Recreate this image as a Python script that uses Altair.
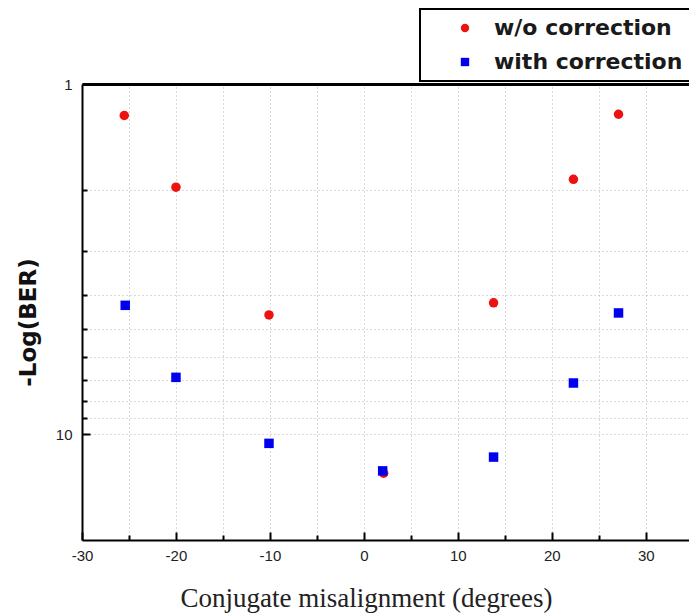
import altair as alt
import pandas as pd

# ---- data ----
series_names = ["w/o correction", "with correction"]
angle_wo = [-25.5, -20.0, -10.1, 2.1, 13.8, 22.3, 27.1]
ber_wo = [1.23, 1.97, 4.56, 12.9, 4.21, 1.87, 1.22]
angle_w = [-25.4, -20.0, -10.1, 2.0, 13.8, 22.3, 27.1]
ber_w = [4.28, 6.87, 10.6, 12.7, 11.6, 7.13, 4.50]

x_ticks = [-30, -25, -20, -15, -10, -5, 0, 5, 10, 15, 20, 25, 30]
y_ticks = [1, 2, 3, 4, 5, 6, 7, 8, 9, 10]
x_domain = [-30, 34.6]
y_domain = [1, 20]

df = pd.DataFrame({
    "angle": angle_wo + angle_w,
    "ber": ber_wo + ber_w,
    "series": [series_names[0]] * len(angle_wo) + [series_names[1]] * len(angle_w),
})

x_scale = alt.Scale(domain=x_domain, nice=False, zero=False)
y_scale = alt.Scale(type="log", domain=y_domain, reverse=True, nice=False)

legend = alt.Legend(
    title=None, orient="none", legendX=338, legendY=-75, direction="vertical",
    labelFont="DejaVu Sans", labelFontSize=22, labelFontWeight="bold", labelColor="#1a1a1a",
    labelLimit=500,
    symbolSize=70, symbolOffset=26, labelOffset=18, padding=8, rowPadding=12,
    strokeColor="black", fillColor="white", symbolStrokeWidth=0, symbolOpacity=1,
    cornerRadius=0,
)

points = alt.Chart(df).mark_point(filled=True, size=90, opacity=1).encode(
    x=alt.X(
        "angle:Q", scale=x_scale,
        axis=alt.Axis(
            values=x_ticks, title="Conjugate misalignment (degrees)",
            labelExpr="datum.value % 10 == 0 ? toString(datum.value) : ''",
            tickSize={"expr": "datum.value % 10 == 0 ? -8 : -5"},
            labelPadding=16, labelFlush=False, labelOverlap=False,
            labelFont="Liberation Sans", labelFontSize=15, labelColor="#222222",
            tickColor="black", tickWidth=2,
            domainColor="black", domainWidth=2,
            grid=True, gridColor="#999999", gridDash=[1, 3], gridWidth=1, gridOpacity=0.75,
            titleFont="Liberation Serif", titleFontSize=27, titleFontWeight="normal",
            titleColor="#222222", titleX=284, titleY=66, titleAlign="center",
            titleBaseline="alphabetic",
        ),
    ),
    y=alt.Y(
        "ber:Q", scale=y_scale,
        axis=alt.Axis(
            values=y_ticks, title="-Log(BER)",
            labelExpr="datum.value == 1 || datum.value == 10 ? toString(datum.value) : ''",
            tickSize={"expr": "datum.value == 1 || datum.value == 10 ? -8 : -5"},
            labelPadding=18, labelFlush=False, labelOverlap=False,
            labelFont="Liberation Sans", labelFontSize=15, labelColor="#222222",
            tickColor="black", tickWidth=2,
            domainColor="black", domainWidth=2,
            grid=True, gridColor="#999999", gridDash=[1, 3], gridWidth=1, gridOpacity=0.75,
            titleFont="DejaVu Sans", titleFontSize=23, titleFontWeight="bold",
            titleColor="#111111", titleX=-54, titleY=238, titleAlign="center",
            titleBaseline="middle", titleAngle=270,
        ),
    ),
    color=alt.Color("series:N", scale=alt.Scale(domain=series_names, range=["#ee1111", "#0000ee"]), legend=legend),
    shape=alt.Shape("series:N", scale=alt.Scale(domain=series_names, range=["circle", "square"]), legend=legend),
)

top_frame = alt.Chart(df).mark_point(opacity=0).encode(
    x=alt.X("angle:Q", scale=x_scale,
            axis=alt.Axis(orient="top", labels=False, ticks=False, grid=False, domain=True,
                          domainColor="black", domainWidth=3, title=None)),
    y=alt.value(0),
)

chart = alt.layer(points, top_frame).resolve_axis(x="independent").properties(
    width=607, height=456,
    autosize=alt.AutoSizeParams(type="none"),
    padding={"left": 82, "top": 84, "right": 0, "bottom": 75},
    background="white",
).configure_view(stroke=None).configure_legend(strokeWidth=2)

chart.save("out.html", embed_options={"renderer": "svg", "actions": False})
